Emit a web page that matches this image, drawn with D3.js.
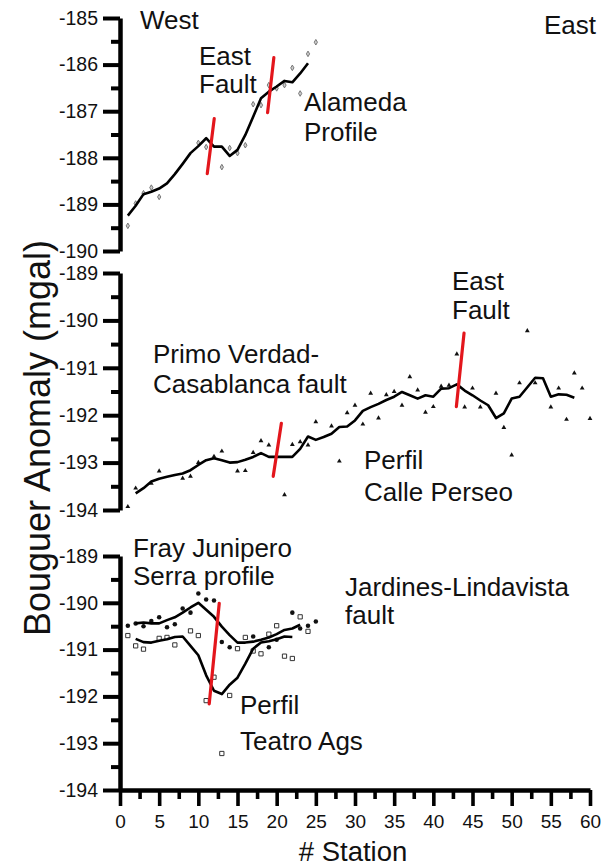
<!DOCTYPE html>
<html><head><meta charset="utf-8">
<script src="https://cdn.jsdelivr.net/npm/d3@7"></script>
<style>
body{margin:0;background:#fff}
text{font-family:"Liberation Sans",Arial,sans-serif;fill:#111}
.axis text{font-family:"Liberation Sans",Arial,sans-serif;fill:#111}
</style>
</head><body>
<svg id="chart" width="609" height="867"></svg>
<script>
// ---------- data ----------
const xTickValues = [0,5,10,15,20,25,30,35,40,45,50,55,60];
const xMinorTicks = [2.5,7.5,12.5,17.5,22.5,27.5,32.5,37.5,42.5,47.5,52.5,57.5];
const topTicks = [-185,-186,-187,-188,-189,-190];
const lowTicks = [-189,-190,-191,-192,-193,-194];

// Alameda profile (top panel)
const alamedaPoints = [[1,-189.46],[2,-188.98],[3,-188.76],[4,-188.64],[5,-188.84],[10,-187.68],[11,-187.77],[13,-188.20],[14,-187.79],[15,-187.90],[16,-187.73],[17,-186.85],[18,-186.87],[19,-186.44],[20,-186.51],[21,-186.44],[22,-186.07],[23,-186.62],[24,-185.77],[25,-185.52]];
const alamedaLine = [[1,-189.24],[2,-189.03],[3,-188.78],[4,-188.73],[5,-188.66],[6,-188.55],[7,-188.35],[8,-188.13],[9,-187.90],[10,-187.75],[11,-187.58],[12,-187.76],[13,-187.76],[14,-187.96],[15,-187.83],[16,-187.51],[17,-187.12],[18,-186.72],[19,-186.58],[20,-186.47],[21,-186.35],[22,-186.38],[23,-186.19],[24,-185.97]];
const alamedaFaults = [[[12.03,-187.16],[11.14,-188.34]],[[19.64,-185.85],[18.84,-187.03]]];

// Calle Perseo (middle panel)
const perseoPoints = [[1,-193.93],[2,-193.54],[4,-193.44],[5,-193.18],[8,-193.33],[9,-193.29],[10,-193.00],[12,-192.87],[13,-192.76],[15,-193.18],[16,-193.17],[17,-192.79],[18,-192.54],[19,-192.63],[21,-193.68],[22,-192.62],[23,-192.56],[24,-192.63],[25,-192.14],[27,-192.23],[28,-192.97],[29,-191.95],[30,-191.79],[31,-192.19],[32,-191.54],[33,-192.06],[34,-191.57],[35,-191.50],[36,-191.79],[37,-191.19],[38,-191.47],[39,-191.94],[40,-191.82],[41,-191.39],[42,-191.37],[43,-190.71],[44,-191.83],[45,-191.43],[46,-191.83],[48,-191.54],[49,-192.26],[50,-192.84],[51,-191.32],[52,-190.22],[53,-191.32],[55,-191.83],[56,-191.43],[57,-192.09],[58,-191.11],[59,-191.43],[60,-192.07]];
const perseoLine = [[2,-193.65],[3,-193.54],[4,-193.40],[5,-193.34],[6,-193.30],[7,-193.26],[8,-193.23],[9,-193.16],[10,-193.05],[11,-192.95],[12,-192.91],[13,-192.95],[14,-193.00],[15,-192.99],[16,-192.94],[17,-192.88],[18,-192.80],[19,-192.88],[20,-192.88],[21,-192.88],[22,-192.88],[23,-192.71],[24,-192.45],[25,-192.52],[26,-192.46],[27,-192.39],[28,-192.25],[29,-192.24],[30,-192.11],[31,-191.91],[32,-191.83],[33,-191.76],[34,-191.68],[35,-191.61],[36,-191.51],[37,-191.58],[38,-191.65],[39,-191.58],[40,-191.61],[41,-191.44],[42,-191.43],[43,-191.35],[44,-191.48],[45,-191.58],[46,-191.69],[47,-191.79],[48,-192.06],[49,-191.96],[50,-191.65],[51,-191.61],[52,-191.41],[53,-191.21],[54,-191.22],[55,-191.61],[56,-191.56],[57,-191.57],[58,-191.63]];
const perseoFaults = [[[20.6,-192.17],[19.56,-193.29]],[[43.92,-190.27],[42.94,-191.82]]];

// Fray Junipero Serra (bottom panel, filled circles)
const frayPoints = [[1,-190.49],[2,-190.44],[3,-190.50],[4,-190.39],[5,-190.31],[6,-190.52],[7,-190.46],[8,-190.12],[9,-190.21],[10,-189.80],[11,-189.93],[12,-189.95],[13,-190.84],[14,-190.95],[15,-190.97],[17,-190.72],[19,-190.95],[20,-190.79],[22,-190.21],[23,-190.55],[24,-190.49],[25,-190.40]];
const frayLine = [[2,-190.44],[3,-190.42],[4,-190.44],[5,-190.44],[6,-190.37],[7,-190.31],[8,-190.21],[9,-190.10],[10,-190.00],[11,-190.15],[12,-190.30],[13,-190.51],[14,-190.69],[15,-190.85],[16,-190.85],[17,-190.83],[18,-190.79],[19,-190.74],[20,-190.67],[21,-190.58],[22,-190.55],[23,-190.47]];
// Teatro Ags (bottom panel, open squares)
const teatroPoints = [[1,-190.70],[2,-190.92],[3,-190.99],[5,-190.76],[6,-190.74],[7,-190.90],[9,-190.60],[10,-190.70],[11,-192.09],[12,-191.59],[13,-193.22],[14,-191.98],[15,-190.98],[16,-190.74],[17,-191.03],[18,-191.09],[19,-190.67],[20,-190.49],[21,-191.14],[22,-191.19],[23,-190.30],[24,-190.61]];
const teatroLine = [[2,-190.77],[3,-190.84],[4,-190.85],[5,-190.81],[6,-190.78],[7,-190.73],[8,-190.72],[9,-190.92],[10,-191.12],[11,-191.55],[12,-191.88],[13,-191.95],[14,-191.75],[15,-191.60],[16,-191.30],[17,-190.98],[18,-190.85],[19,-190.82],[20,-190.78],[21,-190.72],[22,-190.73]];
const bottomFaults = [[[12.67,-190.01],[11.39,-192.16]]];

// annotation texts
const annotations = [
  {x:140,y:29,gap:29,lines:["West"]},
  {x:544,y:34,gap:29,lines:["East"]},
  {x:199,y:65,gap:28,lines:["East","Fault"]},
  {x:304,y:111,gap:30,lines:["Alameda","Profile"]},
  {x:452,y:290,gap:29,lines:["East","Fault"]},
  {x:153,y:363,gap:30,lines:["Primo Verdad-","Casablanca fault"]},
  {x:364,y:469,gap:32,lines:["Perfil","Calle Perseo"]},
  {x:133,y:557,gap:28,lines:["Fray Junipero","Serra profile"]},
  {x:345,y:596,gap:28,lines:["Jardines-Lindavista","fault"]},
  {x:240,y:714,gap:36,lines:["Perfil","Teatro Ags"]}
];

// ---------- layout ----------
const svg = d3.select("#chart");
const x = d3.scaleLinear().domain([0,60]).range([120,590]);
const yTop = d3.scaleLinear().domain([-190,-185]).range([251,18]);
const yMid = d3.scaleLinear().domain([-194,-189]).range([510,273]);
const yBot = d3.scaleLinear().domain([-194,-189]).range([790,556]);

const FONT_TICK = 19.5, FONT_ANN = 26;
const AXIS_COLOR = "#000";

function thicken(g, tickW, domainW){
  // re-stroke every axis line/path with explicit attributes and inline style
  g.selectAll("line").each(function(){
    this.setAttribute("stroke", AXIS_COLOR);
    this.setAttribute("stroke-width", tickW);
    this.style.strokeWidth = tickW + "px";
    this.style.stroke = AXIS_COLOR;
  });
  g.selectAll("path").each(function(){
    this.setAttribute("stroke", AXIS_COLOR);
    this.setAttribute("stroke-width", domainW);
    this.style.strokeWidth = domainW + "px";
    this.style.stroke = AXIS_COLOR;
  });
}

function yAxis(y, majors){
  const minors = [];
  for (let i=0;i<majors.length-1;i++) minors.push((majors[i]+majors[i+1])/2);
  const gMin = svg.append("g").attr("class","axis").attr("transform","translate(120,0)");
  gMin.call(d3.axisLeft(y).tickValues(minors).tickSize(9).tickSizeOuter(0).tickFormat(""));
  gMin.select(".domain").remove();
  thicken(gMin, 4, 4);
  const g = svg.append("g").attr("class","axis").attr("transform","translate(120,0)");
  g.call(d3.axisLeft(y).tickValues(majors).tickSize(17).tickSizeOuter(0).tickPadding(5));
  thicken(g, 4, 4.5);
  g.selectAll("text").attr("font-size",FONT_TICK).text(d=>"-"+Math.abs(d));
}
yAxis(yTop, topTicks);
yAxis(yMid, lowTicks);
yAxis(yBot, lowTicks);

// x axis
const gxMin = svg.append("g").attr("class","axis").attr("transform","translate(0,790)");
gxMin.call(d3.axisBottom(x).tickValues(xMinorTicks).tickSize(9).tickSizeOuter(0).tickFormat(""));
gxMin.select(".domain").remove();
thicken(gxMin, 3.6, 4);
const gx = svg.append("g").attr("class","axis").attr("transform","translate(0,790)");
gx.call(d3.axisBottom(x).tickValues(xTickValues).tickSize(16).tickSizeOuter(0).tickPadding(9));
thicken(gx, 3.6, 4.5);
gx.selectAll("text").attr("font-size",19);

// axis titles
svg.append("text").attr("x",353).attr("y",861).attr("text-anchor","middle")
  .attr("font-size",27.5).text("# Station");
svg.append("text").attr("transform","translate(50,438) rotate(-90)").attr("text-anchor","middle")
  .attr("font-size",36).text("Bouguer Anomaly (mgal)");

// marks
function drawLine(data, y){
  svg.append("path").datum(data)
    .attr("d", d3.line().x(d=>x(d[0])).y(d=>y(d[1])))
    .attr("fill","none").attr("stroke","#000").attr("stroke-width",2.6)
    .attr("stroke-linejoin","round");
}
function drawFaults(faults, y){
  svg.selectAll(null).data(faults).enter().append("line")
    .attr("x1",d=>x(d[0][0])).attr("y1",d=>y(d[0][1]))
    .attr("x2",d=>x(d[1][0])).attr("y2",d=>y(d[1][1]))
    .attr("stroke","#e3161c").attr("stroke-width",3.2).attr("stroke-linecap","round");
}
function drawSymbols(data, y, type, size, fill, stroke, sw){
  svg.selectAll(null).data(data).enter().append("path")
    .attr("transform",d=>`translate(${x(d[0])},${y(d[1])})`)
    .attr("d", d3.symbol().type(type).size(size))
    .attr("fill",fill).attr("stroke",stroke).attr("stroke-width",sw);
}

// top
drawSymbols(alamedaPoints, yTop, d3.symbolDiamond, 9, "#ccc", "#777", 1);
drawLine(alamedaLine, yTop);
drawFaults(alamedaFaults, yTop);
// middle
drawSymbols(perseoPoints, yMid, d3.symbolTriangle, 10, "#111", "none", 0);
drawLine(perseoLine, yMid);
drawFaults(perseoFaults, yMid);
// bottom
drawSymbols(frayPoints, yBot, d3.symbolCircle, 16, "#111", "none", 0);
drawSymbols(teatroPoints, yBot, d3.symbolSquare, 18, "#fff", "#333", 1);
drawLine(frayLine, yBot);
drawLine(teatroLine, yBot);
drawFaults(bottomFaults, yBot);

// annotations
annotations.forEach(a=>{
  const t = svg.append("text").attr("x",a.x).attr("y",a.y).attr("font-size",FONT_ANN);
  a.lines.forEach((l,i)=>t.append("tspan").attr("x",a.x).attr("y",a.y+i*a.gap).text(l));
});
</script>
</body></html>
